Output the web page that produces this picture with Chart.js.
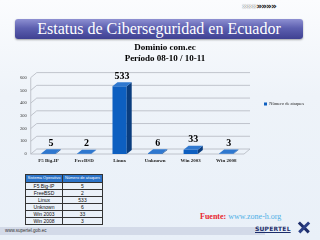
<!DOCTYPE html>
<html>
<head>
<meta charset="utf-8">
<script src="https://cdn.jsdelivr.net/npm/chart.js@4"></script>
<style>
  html, body { margin: 0; padding: 0; }
  body { width: 320px; height: 240px; overflow: hidden; position: relative;
         background: linear-gradient(180deg, #fbfcfe 0%, #eef3f9 40%, #e9f0f8 100%);
         font-family: "Liberation Serif", serif; }
  #arrows { position: absolute; left: 242px; top: 1px; font: bold 9px "DejaVu Sans", sans-serif; letter-spacing: -1px; line-height: 10px; }
  #arrows .a { color: #fff; text-shadow: 0 0 1px #333; }
  #arrows .b { color: #111; }
  #banner { position: absolute; left: 15px; top: 19px; width: 288px; height: 20px; border-radius: 3px;
            background: linear-gradient(180deg, #8e90d2 0%, #5d60b0 45%, #3f4192 100%);
            box-shadow: 0 1px 2px rgba(0,0,0,0.35);
            color: #fff; text-align: center; font: 16px/20px "Liberation Serif", serif; }
  #wrap { position: absolute; left: 0; top: 40px; width: 320px; height: 130px; }
  table { position: absolute; left: 25px; top: 174px; border-collapse: collapse;
          font: 5px "Liberation Sans", sans-serif; color: #111; }
  td, th { border: 0.6px solid #333; padding: 0; height: 6.1px; text-align: center; line-height: 6px; }
  th { background: #2b73c8; color: #fff; font-weight: normal; font-size: 4px; height: 6.5px; }
  td.c1 { width: 36px; } td.c2 { width: 39px; }
  #fuente { position: absolute; left: 200px; top: 212px; font: 8px "Liberation Serif", serif; color: #4fb0e6; }
  #fuente b { color: #e8262e; }
  #footer { position: absolute; left: 0; top: 227px; width: 265px; height: 8px; background: #d3dae8; }
  #footer span { position: absolute; left: 5px; top: 1px; font: 4.5px "Liberation Sans", sans-serif; color: #333; }
  #logo { position: absolute; left: 255px; top: 225px; font: bold 6px "DejaVu Sans", sans-serif; color: #1d2d6b;
          text-decoration: underline; letter-spacing: 0.2px; }
  .sat { position: absolute; width: 14px; height: 2.5px; background: #1d2d6b; left: 297px; top: 226px; }
</style>
</head>
<body>
<div id="arrows"><span class="a">»»»</span><span class="b">»»»»</span></div>
<div id="banner">Estatus de Ciberseguridad en Ecuador</div>
<div id="wrap"><canvas id="chart" width="320" height="130"></canvas></div>
<table id="tbl">
  <tr><th>Sistema Operativo</th><th>Número de ataques</th></tr>
</table>
<div id="fuente"><b>Fuente:</b> www.zone-h.org</div>
<div id="footer"><span>www.supertel.gob.ec</span></div>
<div id="logo">SUPERTEL</div>
<div class="sat" style="transform: rotate(45deg);"></div>
<div class="sat" style="transform: rotate(-45deg); background:#2b3f86;"></div>
<script>
var categories = ['F5 Big-IP', 'FreeBSD', 'Linux', 'Unknown', 'Win 2003', 'Win 2008'];
var attacks = [5, 2, 533, 6, 33, 3];
var yTicks = [0, 100, 200, 300, 400, 500, 600];
var seriesName = 'Número de ataques';

// table under the chart
var tbl = document.getElementById('tbl');
for (var i = 0; i < categories.length; i++) {
  var tr = document.createElement('tr');
  tr.innerHTML = '<td class="c1">' + categories[i] + '</td><td class="c2">' + attacks[i] + '</td>';
  tbl.appendChild(tr);
}

var DX = 6, DY = 5;     // depth of the back wall
var BX = 5, BY = 4;     // depth of a bar

var threeD = {
  id: 'threeD',
  beforeDatasetsDraw: function (chart) {
    var c = chart.ctx, a = chart.chartArea, y = chart.scales.y;
    c.save();
    c.strokeStyle = '#b4b8c0';
    c.lineWidth = 0.8;
    yTicks.forEach(function (t) {
      var py = y.getPixelForValue(t);
      c.beginPath();
      c.moveTo(a.left, py);
      c.lineTo(a.left + DX, py - DY);
      c.lineTo(a.right + DX, py - DY);
      c.stroke();
    });
    // floor front edge and right edge
    var p0 = y.getPixelForValue(0);
    c.beginPath();
    c.moveTo(a.left, p0);
    c.lineTo(a.right, p0);
    c.lineTo(a.right + DX, p0 - DY);
    c.stroke();
    // left wall edge
    c.beginPath();
    c.moveTo(a.left, p0);
    c.lineTo(a.left, y.getPixelForValue(600));
    c.stroke();
    c.restore();
  },
  afterDatasetsDraw: function (chart) {
    var c = chart.ctx;
    var meta = chart.getDatasetMeta(0);
    c.save();
    meta.data.forEach(function (bar, i) {
      var x0 = bar.x - bar.width / 2, x1 = bar.x + bar.width / 2;
      var top = bar.y, base = bar.base;
      // side
      c.fillStyle = '#0a3d7e';
      c.beginPath();
      c.moveTo(x1, base); c.lineTo(x1 + BX, base - BY);
      c.lineTo(x1 + BX, top - BY); c.lineTo(x1, top);
      c.closePath(); c.fill();
      // top
      c.fillStyle = '#2f78cf';
      c.beginPath();
      c.moveTo(x0, top); c.lineTo(x1, top);
      c.lineTo(x1 + BX, top - BY); c.lineTo(x0 + BX, top - BY);
      c.closePath(); c.fill();
      // value label
      c.fillStyle = '#000';
      c.font = 'bold 10px "Liberation Serif"';
      c.textAlign = 'center';
      c.textBaseline = 'bottom';
      c.fillText(String(attacks[i]), bar.x + BX / 2, top - BY - 1);
    });
    c.restore();
  }
};

var ctx = document.getElementById('chart').getContext('2d');
var myChart = new Chart(ctx, {
  type: 'bar',
  data: {
    labels: categories,
    datasets: [{
      label: seriesName,
      data: attacks,
      backgroundColor: '#0d5fc0',
      borderWidth: 0,
      categoryPercentage: 0.8,
      barPercentage: 0.5
    }]
  },
  options: {
    responsive: false,
    animation: false,
    layout: { padding: { left: 16, right: 6, top: 0, bottom: 2 } },
    plugins: {
      title: {
        display: true,
        text: ['Dominio com.ec', 'Período 08-10 / 10-11'],
        color: '#000',
        font: { family: 'Liberation Serif', size: 9, weight: 'bold', lineHeight: 1.2 },
        padding: { top: 2, bottom: 14 }
      },
      legend: {
        position: 'right',
        labels: {
          boxWidth: 3, boxHeight: 3, padding: 20, color: '#222',
          font: { family: 'Liberation Serif', size: 4.5 }
        }
      },
      tooltip: { enabled: false }
    },
    scales: {
      x: {
        grid: { display: false, drawTicks: false },
        border: { display: false },
        ticks: { color: '#222', padding: 4, font: { family: 'Liberation Serif', size: 5, weight: 'bold' } }
      },
      y: {
        min: 0, max: 600,
        afterBuildTicks: function (s) { s.ticks = yTicks.map(function (v) { return { value: v }; }); },
        grid: { display: false, drawTicks: false },
        border: { display: false },
        ticks: { color: '#333', padding: 4, font: { family: 'Liberation Serif', size: 4.5 } }
      }
    }
  },
  plugins: [threeD]
});
</script>
</body>
</html>
